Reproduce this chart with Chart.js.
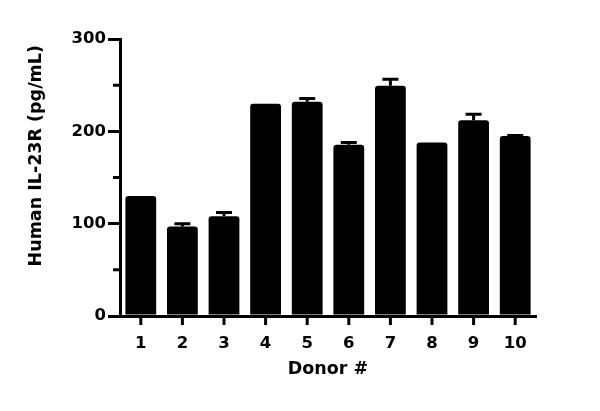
<!DOCTYPE html>
<html>
<head>
<meta charset="utf-8">
<script src="https://cdn.jsdelivr.net/npm/chart.js@4"></script>
<style>
  html, body { margin: 0; padding: 0; background: #fff; }
  #il23r { display: block; }
</style>
</head>
<body>
<canvas id="il23r" width="600" height="411"></canvas>
<script>
// Human IL-23R levels per donor
const donors = ["1", "2", "3", "4", "5", "6", "7", "8", "9", "10"];
const il23rMean = [130, 97, 108, 230, 232, 185.5, 249.5, 188, 212, 195];
const il23rErr = [0, 3, 4, 0, 3.5, 2.5, 7, 0, 6.5, 0.5];
const yTicks = [0, 100, 200, 300];
const yMinorTicks = [50, 150, 250];

const labelFont = { family: "'DejaVu Sans', sans-serif", size: 16.5, weight: "bold" };
const titleFont = { family: "'DejaVu Sans', sans-serif", size: 17.5, weight: "bold" };

// upward-only error bars with a cap
const errorBars = {
  id: "errorBars",
  afterDatasetsDraw(chart) {
    const ctx = chart.ctx;
    const y = chart.scales.y;
    const meta = chart.getDatasetMeta(0);
    ctx.save();
    ctx.strokeStyle = "#000";
    ctx.lineWidth = 3;
    meta.data.forEach((bar, i) => {
      if (!il23rErr[i]) return;
      const yTop = y.getPixelForValue(il23rMean[i] + il23rErr[i]);
      ctx.beginPath();
      ctx.moveTo(bar.x, bar.y);
      ctx.lineTo(bar.x, yTop);
      ctx.moveTo(bar.x - 8, yTop);
      ctx.lineTo(bar.x + 8, yTop);
      ctx.stroke();
    });
    ctx.restore();
  }
};

// short minor ticks on the y axis, centred ticks under each bar
const axisTicks = {
  id: "axisTicks",
  afterDraw(chart) {
    const ctx = chart.ctx;
    const y = chart.scales.y;
    const { left, bottom } = chart.chartArea;
    const bars = chart.getDatasetMeta(0).data;
    ctx.save();
    ctx.strokeStyle = "#000";
    ctx.lineWidth = 3;
    ctx.beginPath();
    yMinorTicks.forEach((v) => {
      const py = y.getPixelForValue(v);
      ctx.moveTo(left - 7, py);
      ctx.lineTo(left, py);
    });
    bars.forEach((bar) => {
      ctx.moveTo(bar.x, bottom);
      ctx.lineTo(bar.x, bottom + 9);
    });
    ctx.stroke();
    ctx.restore();
  }
};

new Chart(document.getElementById("il23r"), {
  type: "bar",
  data: {
    labels: donors,
    datasets: [
      {
        data: il23rMean,
        backgroundColor: "#000",
        borderRadius: 3,
        borderSkipped: "bottom",
        categoryPercentage: 1,
        barPercentage: 0.74
      }
    ]
  },
  options: {
    responsive: false,
    animation: false,
    events: [],
    layout: { padding: { top: 39, right: 64, left: 0, bottom: 0 } },
    plugins: {
      legend: { display: false },
      tooltip: { enabled: false }
    },
    scales: {
      x: {
        afterFit(scale) { scale.height = 95; },
        border: { color: "#000", width: 3 },
        grid: { display: false },
        ticks: { color: "#000", font: labelFont, padding: 10, maxRotation: 0 },
        title: { display: true, text: "Donor #", color: "#000", font: titleFont, padding: { bottom: 31 } }
      },
      y: {
        min: 0,
        max: 300,
        afterFit(scale) { scale.width = 120; },
        afterBuildTicks(scale) { scale.ticks = yTicks.map((v) => ({ value: v })); },
        border: { color: "#000", width: 3 },
        grid: { drawOnChartArea: false, drawTicks: true, tickLength: 12, color: "#000", lineWidth: 3 },
        ticks: { color: "#000", font: labelFont, padding: 2 },
        title: { display: true, text: "Human IL-23R (pg/mL) ", color: "#000", font: titleFont, align: "end", padding: { top: 26 } }
      }
    }
  },
  plugins: [errorBars, axisTicks]
});
</script>
</body>
</html>
